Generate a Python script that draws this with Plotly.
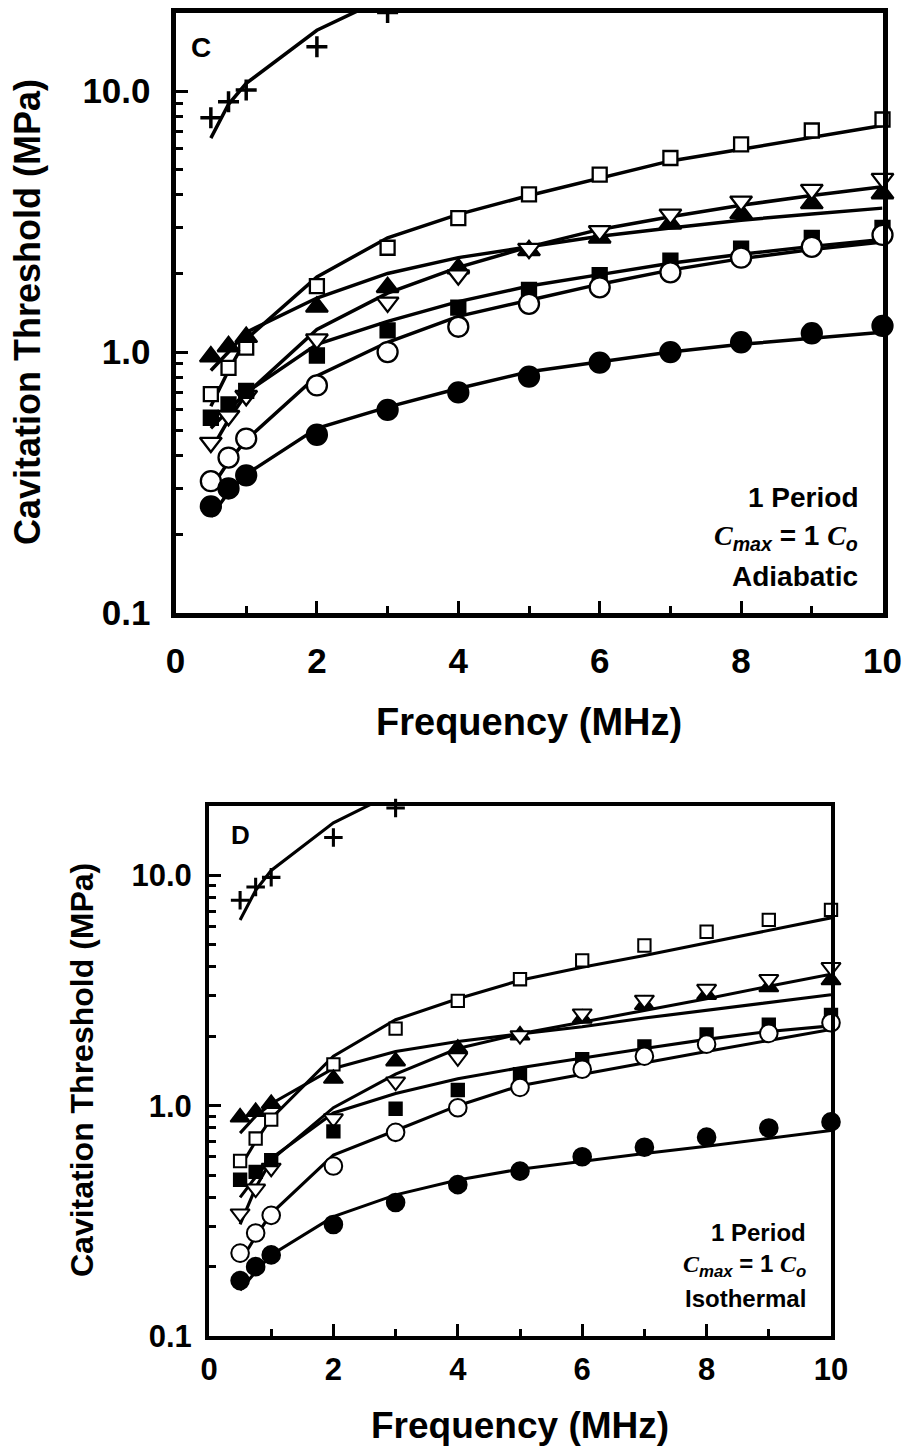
import plotly.graph_objects as go

# page is 913x1452; the html body keeps an 8 px margin, so the figure is drawn 8 px smaller
PAGE_W, PAGE_H, OFF = 913, 1452, 8
W, H = PAGE_W - OFF, PAGE_H - OFF

# ---------------- data ----------------
freq = [0.5, 0.75, 1, 2, 3, 4, 5, 6, 7, 8, 9, 10]
freq_plus = [0.5, 0.75, 1, 2, 3]

# Panel C : adiabatic  (markers = data, lines = model)
c_plus_data = [7.9, 9.1, 10.1, 14.8, 20.0]
c_plus_fit = [6.6, 8.9, 10.7, 17.1, 23.0]
c_sq_open_data = [0.69, 0.87, 1.04, 1.79, 2.51, 3.26, 4.02, 4.78, 5.54, 6.25, 7.06, 7.78]
c_sq_open_fit = [0.62, 0.85, 1.12, 1.94, 2.74, 3.37, 3.98, 4.62, 5.40, 5.98, 6.64, 7.38]
c_tri_up_data = [0.96, 1.05, 1.14, 1.49, 1.77, 2.09, 2.45, 2.74, 3.10, 3.40, 3.71, 4.05]
c_tri_up_fit = [0.85, 1.00, 1.19, 1.61, 2.00, 2.30, 2.53, 2.78, 2.99, 3.20, 3.38, 3.56]
c_tri_dn_data = [0.45, 0.57, 0.68, 1.12, 1.55, 1.97, 2.49, 2.91, 3.37, 3.78, 4.19, 4.62]
c_tri_dn_fit = [0.42, 0.55, 0.69, 1.22, 1.68, 2.11, 2.53, 2.95, 3.30, 3.65, 3.98, 4.30]
c_sq_fill_data = [0.56, 0.63, 0.71, 0.97, 1.21, 1.48, 1.73, 1.97, 2.24, 2.49, 2.74, 2.99]
c_sq_fill_fit = [0.51, 0.60, 0.70, 1.07, 1.31, 1.56, 1.79, 1.98, 2.19, 2.37, 2.54, 2.70]
c_circ_open_data = [0.32, 0.394, 0.466, 0.745, 1.00, 1.25, 1.53, 1.77, 2.02, 2.30, 2.53, 2.81]
c_circ_open_fit = [0.30, 0.38, 0.46, 0.81, 1.09, 1.37, 1.58, 1.82, 2.06, 2.28, 2.47, 2.64]
c_circ_fill_data = [0.256, 0.30, 0.337, 0.482, 0.60, 0.70, 0.805, 0.91, 1.00, 1.09, 1.18, 1.26]
c_circ_fill_fit = [0.234, 0.29, 0.34, 0.51, 0.615, 0.725, 0.84, 0.92, 1.00, 1.07, 1.13, 1.19]

# Panel D : isothermal
d_plus_data = [7.8, 8.9, 9.8, 14.6, 19.6]
d_plus_fit = [6.4, 8.6, 10.5, 16.9, 23.0]
d_sq_open_data = [0.575, 0.72, 0.87, 1.51, 2.16, 2.85, 3.54, 4.27, 4.96, 5.69, 6.41, 7.08]
d_sq_open_fit = [0.54, 0.70, 0.88, 1.64, 2.36, 2.91, 3.50, 3.99, 4.49, 5.10, 5.80, 6.54]
d_tri_up_data = [0.89, 0.94, 1.02, 1.31, 1.56, 1.77, 2.02, 2.39, 2.74, 3.03, 3.27, 3.51]
d_tri_up_fit = [0.76, 0.90, 1.02, 1.45, 1.72, 1.90, 2.05, 2.20, 2.40, 2.60, 2.80, 3.03]
d_tri_dn_data = [0.34, 0.436, 0.537, 0.88, 1.27, 1.62, 2.02, 2.51, 2.88, 3.21, 3.54, 3.99]
d_tri_dn_fit = [0.305, 0.44, 0.58, 0.98, 1.37, 1.77, 2.05, 2.30, 2.58, 2.91, 3.30, 3.72]
d_sq_fill_data = [0.477, 0.516, 0.58, 0.773, 0.97, 1.17, 1.37, 1.59, 1.81, 2.04, 2.25, 2.48]
d_sq_fill_fit = [0.40, 0.49, 0.59, 0.93, 1.13, 1.31, 1.46, 1.61, 1.77, 1.94, 2.10, 2.22]
d_circ_open_data = [0.229, 0.28, 0.334, 0.547, 0.766, 0.98, 1.20, 1.44, 1.64, 1.85, 2.06, 2.29]
d_circ_open_fit = [0.21, 0.27, 0.34, 0.61, 0.78, 1.00, 1.22, 1.37, 1.53, 1.72, 1.92, 2.14]
d_circ_fill_data = [0.174, 0.20, 0.225, 0.305, 0.38, 0.454, 0.52, 0.60, 0.66, 0.73, 0.80, 0.85]
d_circ_fill_fit = [0.158, 0.19, 0.225, 0.33, 0.41, 0.476, 0.53, 0.575, 0.62, 0.667, 0.72, 0.78]

y_tickvals = [0.1, 1, 10]
y_ticktext = ["0.1", "1.0", "10.0"]
y_minor = [0.2, 0.3, 0.4, 0.5, 0.6, 0.7, 0.8, 0.9, 2, 3, 4, 5, 6, 7, 8, 9, 20]
x_tickvals = [0, 2, 4, 6, 8, 10]
x_minor = [1, 3, 5, 7, 9]

FONT = "Liberation Sans, Arial, sans-serif"

# ---------------- figure ----------------
fig = go.Figure()


def add_panel(xa, ya, s, scale):
    lw = 3.5 * scale
    series = [
        (freq_plus, s["plus_data"], s["plus_fit"], "cross-thin", "black", 15),
        (freq, s["sq_open_data"], s["sq_open_fit"], "square", "white", 14),
        (freq, s["tri_up_data"], s["tri_up_fit"], "triangle-up", "black", 19),
        (freq, s["tri_dn_data"], s["tri_dn_fit"], "triangle-down", "white", 19),
        (freq, s["sq_fill_data"], s["sq_fill_fit"], "square", "black", 14),
        (freq, s["circ_open_data"], s["circ_open_fit"], "circle", "white", 20),
        (freq, s["circ_fill_data"], s["circ_fill_fit"], "circle", "black", 20),
    ]
    for xs, _, fit, _, _, _ in series:
        fig.add_trace(go.Scatter(x=xs, y=fit, mode="lines", xaxis=xa, yaxis=ya,
                                 line=dict(color="black", width=lw),
                                 showlegend=False, hoverinfo="skip"))
    for xs, data, _, sym, fill, size in series:
        mline = 3.5 * scale if sym == "cross-thin" else 2.3 * scale
        fig.add_trace(go.Scatter(x=xs, y=data, mode="markers", xaxis=xa, yaxis=ya,
                                 cliponaxis=False,
                                 marker=dict(symbol=sym, size=size * scale, color=fill,
                                             line=dict(color="black", width=mline)),
                                 showlegend=False))


add_panel("x", "y", dict(
    plus_data=c_plus_data, plus_fit=c_plus_fit,
    sq_open_data=c_sq_open_data, sq_open_fit=c_sq_open_fit,
    tri_up_data=c_tri_up_data, tri_up_fit=c_tri_up_fit,
    tri_dn_data=c_tri_dn_data, tri_dn_fit=c_tri_dn_fit,
    sq_fill_data=c_sq_fill_data, sq_fill_fit=c_sq_fill_fit,
    circ_open_data=c_circ_open_data, circ_open_fit=c_circ_open_fit,
    circ_fill_data=c_circ_fill_data, circ_fill_fit=c_circ_fill_fit), 1.0)

add_panel("x2", "y2", dict(
    plus_data=d_plus_data, plus_fit=d_plus_fit,
    sq_open_data=d_sq_open_data, sq_open_fit=d_sq_open_fit,
    tri_up_data=d_tri_up_data, tri_up_fit=d_tri_up_fit,
    tri_dn_data=d_tri_dn_data, tri_dn_fit=d_tri_dn_fit,
    sq_fill_data=d_sq_fill_data, sq_fill_fit=d_sq_fill_fit,
    circ_open_data=d_circ_open_data, circ_open_fit=d_circ_open_fit,
    circ_fill_data=d_circ_fill_data, circ_fill_fit=d_circ_fill_fit), 0.88)


def px(v):
    return (v - OFF) / W


def py(v):
    return 1 - (v - OFF) / H


def xaxis_cfg(dom, lw, fs, standoff, anchor):
    return dict(domain=dom, range=[0, 10], anchor=anchor, automargin=False,
                showline=True, linecolor="black", linewidth=lw,
                mirror=True, showgrid=False, zeroline=False,
                tickmode="array", tickvals=x_tickvals, ticks="inside", ticklen=12,
                tickwidth=3, tickcolor="black", ticklabelstandoff=standoff,
                tickfont=dict(family=FONT, size=fs, color="black", weight="bold"),
                minor=dict(tickmode="array", tickvals=x_minor, ticks="inside", ticklen=7,
                           tickwidth=3, tickcolor="black", showgrid=False))


def yaxis_cfg(dom, lw, fs, standoff, anchor):
    return dict(domain=dom, type="log", range=[-1, 1.30103], anchor=anchor, automargin=False,
                showline=True, linecolor="black", linewidth=lw,
                mirror=True, showgrid=False, zeroline=False,
                tickmode="array", tickvals=y_tickvals, ticktext=y_ticktext,
                ticks="inside", ticklen=12, tickwidth=3, tickcolor="black",
                ticklabelstandoff=standoff,
                tickfont=dict(family=FONT, size=fs, color="black", weight="bold"),
                minor=dict(tickmode="array", tickvals=y_minor, ticks="inside", ticklen=7,
                           tickwidth=3, tickcolor="black", showgrid=False))


# axis lines are drawn just outside the plot area, so domains are inset by half a line
fig.update_layout(
    width=W, height=H, margin=dict(l=0, r=0, t=0, b=0, autoexpand=False),
    paper_bgcolor="white", plot_bgcolor="white", showlegend=False,
    xaxis=xaxis_cfg([px(175.5), px(882.5)], 5, 35, 13, "y"),
    yaxis=yaxis_cfg([py(613), py(12.5)], 5, 35, 13, "x"),
    xaxis2=xaxis_cfg([px(209), px(831)], 4, 31, 3, "y2"),
    yaxis2=yaxis_cfg([py(1336), py(806)], 4, 31, 7, "x2"),
)

bold = dict(family=FONT, color="black", weight="bold")
ann = []


def text(x, y, t, size, xanchor="center", angle=0):
    ann.append(dict(x=px(x), y=py(y), xref="paper", yref="paper", text=t, showarrow=False,
                    xanchor=xanchor, yanchor="middle", textangle=angle,
                    font=dict(bold, size=size)))


SER = "<span style='font-family:Liberation Serif, Times New Roman, serif'><i>C</i></span>"

# Panel C texts
text(27, 312, "Cavitation Threshold (MPa)", 36, angle=-90)
text(529, 722, "Frequency (MHz)", 38)
text(201, 47, "C", 28)
text(860, 498, "1 Period", 28, "right")
text(860, 538, SER + "<sub><i>max</i></sub> = 1 " + SER + "<sub><i>o</i></sub>", 28, "right")
text(860, 577, "Adiabatic", 28, "right")

# Panel D texts
text(82, 1070, "Cavitation Threshold (MPa)", 32, angle=-90)
text(520, 1425, "Frequency (MHz)", 37)
text(240, 835, "D", 26)
text(808, 1232, "1 Period", 24, "right")
text(808, 1265, SER + "<sub><i>max</i></sub> = 1 " + SER + "<sub><i>o</i></sub>", 24, "right")
text(808, 1298, "Isothermal", 24, "right")

fig.update_layout(annotations=ann)

fig.write_html("out.html")
